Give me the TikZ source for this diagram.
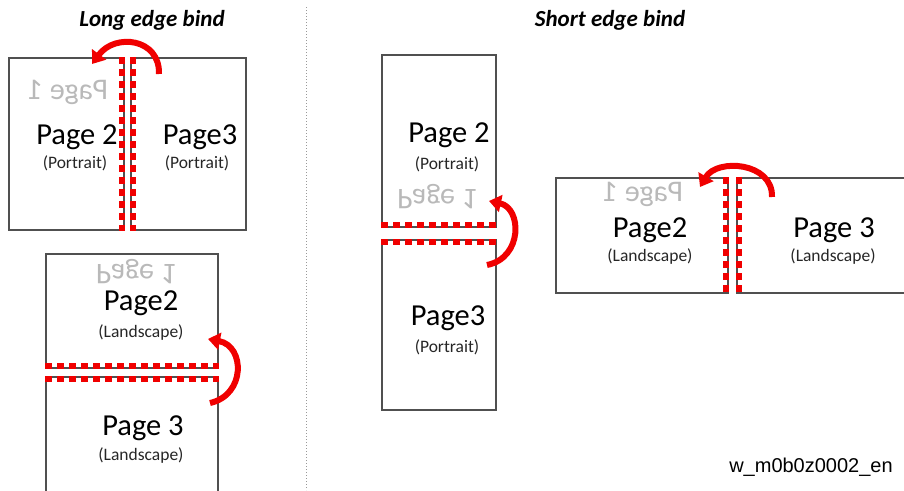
\documentclass[tikz,border=0pt]{standalone}
\usepackage{fontspec}
\setmainfont{Carlito}
\newfontfamily\codefont{Liberation Sans}
\usetikzlibrary{arrows.meta}

\definecolor{bindred}{RGB}{240,0,0}
\definecolor{edgegray}{RGB}{80,80,80}
\definecolor{ghostgray}{RGB}{185,185,185}

\begin{document}
\begin{tikzpicture}[
  x=1pt, y=1pt,
  page/.style={
    draw=edgegray,
    line width=1.2pt,
    inner sep=0pt,
    anchor=center},
  pagename/.style={inner sep=0pt, font=\fontsize{30.5}{32}\selectfont},
  pagekind/.style={inner sep=0pt, font=\fontsize{17.5}{19}\selectfont, text=black!85},
  ghost/.style={inner sep=0pt, font=\fontsize{30}{32}\selectfont, text=ghostgray},
  bindtitle/.style={inner sep=0pt, font=\fontsize{23}{26}\selectfont\bfseries\itshape},
  bindline/.style={draw=bindred, line width=6pt, dash pattern=on 7pt off 5pt},
  turn/.style={draw=bindred, line width=6pt,
    -{Triangle[width=17pt,length=12pt]}}
  ]
  \useasboundingbox (0,0) rectangle (904,-490);

  % long edge bind, portrait
  \node[bindtitle] (longtitle) at (152,-20) {Long edge bind};
  \node[page, minimum width=115, minimum height=172] (lp2) at (66.5,-144) {};
  \node[page, minimum width=115, minimum height=172] (lp3) at (188.5,-144) {};
  \node[ghost, xscale=-1] (lp1) at (68,-92) {Page 1};
  \node[pagename] (lp2name) at (77,-137) {Page 2};
  \node[pagekind] (lp2kind) at (75,-163) {(Portrait)};
  \node[pagename] (lp3name) at (200,-137) {Page3};
  \node[pagekind] (lp3kind) at (197,-163) {(Portrait)};
  \draw[bindline] ([xshift=-3pt]lp2.north east) -- ([xshift=-3pt]lp2.south east);
  \draw[bindline] ([xshift=3pt]lp3.north west) -- ([xshift=3pt]lp3.south west);
  \coordinate (lturn0) at (159,-74);
  \coordinate (lturn1) at (92,-64);
  \draw[turn] (lturn0) .. controls (160,-38) and (115,-33) .. (lturn1);

  % long edge bind, landscape
  \node[page, minimum width=172, minimum height=114] (lb2) at (132,-311) {};
  \node[page, minimum width=172, minimum height=118] (lb3) at (132,-436) {};
  \node[ghost, yscale=-1] (lb1) at (136,-272) {Page 1};
  \node[pagename] (lb2name) at (141,-303) {Page2};
  \node[pagekind] (lb2kind) at (141,-333) {(Landscape)};
  \node[pagename] (lb3name) at (143,-428) {Page 3};
  \node[pagekind] (lb3kind) at (141,-456) {(Landscape)};
  \draw[bindline] ([yshift=3pt]lb2.south west) -- ([yshift=3pt]lb2.south east);
  \draw[bindline] ([yshift=-3pt]lb3.north west) -- ([yshift=-3pt]lb3.north east);
  \coordinate (bturn0) at (210,-403);
  \coordinate (bturn1) at (208,-339);
  \draw[turn] (bturn0) .. controls (246,-395) and (245,-346) .. (bturn1);

  % divider
  \draw[black!40, line width=1pt, dotted] (306,-7) -- (306,-490);

  % short edge bind, portrait
  \node[bindtitle] (shorttitle) at (610,-20) {Short edge bind};
  \node[page, minimum width=114, minimum height=172] (sp2) at (439,-141) {};
  \node[page, minimum width=114, minimum height=170] (sp3) at (439,-325) {};
  \node[ghost, yscale=-1] (sp1) at (437,-197) {Page 1};
  \node[pagename] (sp2name) at (449,-135) {Page 2};
  \node[pagekind] (sp2kind) at (447,-164) {(Portrait)};
  \node[pagename] (sp3name) at (448,-318) {Page3};
  \node[pagekind] (sp3kind) at (447,-347) {(Portrait)};
  \draw[bindline] ([yshift=3pt]sp2.south west) -- ([yshift=3pt]sp2.south east);
  \draw[bindline] ([yshift=-3pt]sp3.north west) -- ([yshift=-3pt]sp3.north east);
  \coordinate (sturn0) at (487,-265);
  \coordinate (sturn1) at (489,-201);
  \draw[turn] (sturn0) .. controls (523,-258) and (522,-208) .. (sturn1);

  % short edge bind, landscape
  \node[page, minimum width=172, minimum height=115] (rp2) at (642,-235.5) {};
  \node[page, minimum width=175, minimum height=115] (rp3) at (824.5,-235.5) {};
  \node[ghost, xscale=-1] (rp1) at (643,-194) {Page 1};
  \node[pagename] (rp2name) at (650,-230) {Page2};
  \node[pagekind] (rp2kind) at (650,-257) {(Landscape)};
  \node[pagename] (rp3name) at (834,-230) {Page 3};
  \node[pagekind] (rp3kind) at (833,-257) {(Landscape)};
  \draw[bindline] ([xshift=-3pt]rp2.north east) -- ([xshift=-3pt]rp2.south east);
  \draw[bindline] ([xshift=3pt]rp3.north west) -- ([xshift=3pt]rp3.south west);
  \coordinate (rturn0) at (772,-197);
  \coordinate (rturn1) at (700,-187);
  \draw[turn] (rturn0) .. controls (773,-162) and (717,-158) .. (rturn1);

  \node[inner sep=0pt, font=\codefont\fontsize{20}{22}\selectfont] (code) at (811,-467) {w\_m0b0z0002\_en};
\end{tikzpicture}
\end{document}
